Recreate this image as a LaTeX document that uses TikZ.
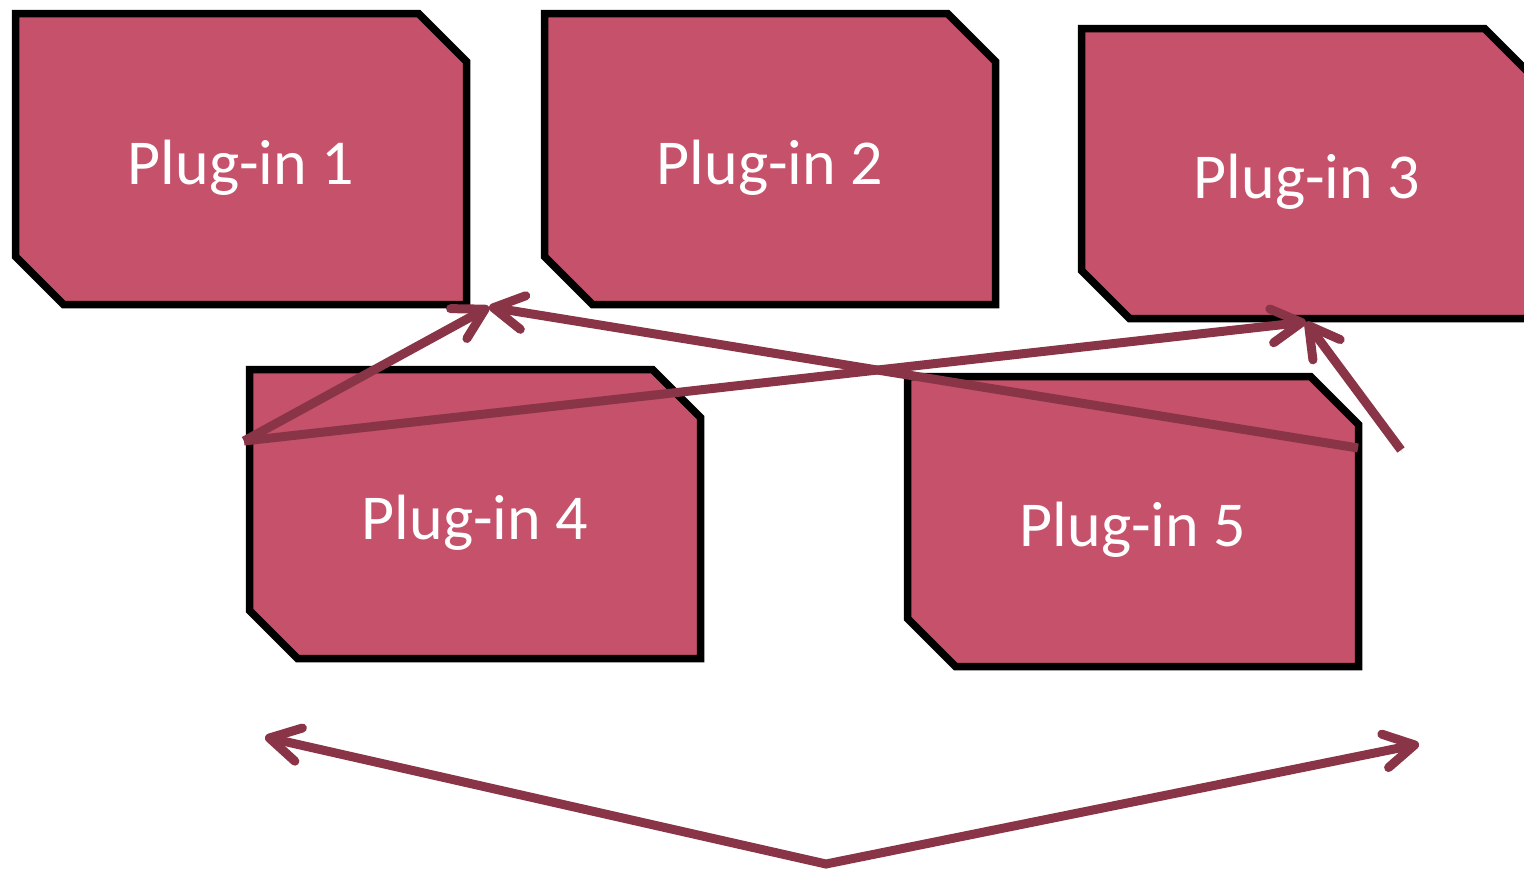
\documentclass[tikz,border=0pt]{standalone}
\usepackage{fontspec}
\setmainfont{Carlito}
\usetikzlibrary{shapes.misc,arrows.meta,shadows}
\definecolor{boxfill}{HTML}{C5516A}
\definecolor{arrowc}{HTML}{8A3448}
\begin{document}
\begin{tikzpicture}[x=1pt,y=-1pt,
  plugin/.style={chamfered rectangle,
    chamfered rectangle corners={north east,south west},
    chamfered rectangle xsep=24pt, chamfered rectangle ysep=24pt,
    draw=black, line width=7.5pt, fill=boxfill,
    minimum width=451pt, minimum height=291pt, inner sep=0pt,
    text=white, font=\fontsize{64}{72}\selectfont,
    text depth=0pt, text height=50pt,
    drop shadow={shadow xshift=3pt, shadow yshift=-3pt, opacity=0.25, fill=black}},
  connbase/.style={draw=arrowc, line width=9pt,
    preaction={draw=black, opacity=0.15, transform canvas={shift={(2pt,-3pt)}}}},
  conn/.style={connbase, -{Straight Barb[length=30pt, width=34pt, round]}}]
\useasboundingbox (0,0) rectangle (1524,871);
\clip (0,0) rectangle (1524,871);
\node[plugin] (p1) at (241,159) {Plug-in 1};
\node[plugin] (p2) at (770,159) {Plug-in 2};
\node[plugin, minimum height=290pt] (p3) at (1307,173.5) {Plug-in 3};
\node[plugin, minimum height=289pt] (p4) at (475,514) {Plug-in 4};
\node[plugin, minimum height=290pt] (p5) at (1133,521.5) {Plug-in 5};
\coordinate (s4) at (244,441);
\coordinate (t1) at (489,307);
\coordinate (s5) at (1358,448);
\coordinate (t3) at (1306,322);
\coordinate (s6) at (1401,450);
\coordinate (bot) at (826,864);
\coordinate (bl) at (265,737);
\coordinate (br) at (1419,744);
\draw[conn] (s4) -- (t1);
\draw[conn] (s5) -- (t1);
\draw[conn] (s4) -- (t3);
\draw[conn] (s6) -- (t3);
\draw[connbase, {Straight Barb[length=30pt, width=34pt, round]}-{Straight Barb[length=30pt, width=34pt, round]}] (bl) -- (bot) -- (br);
\end{tikzpicture}
\end{document}
